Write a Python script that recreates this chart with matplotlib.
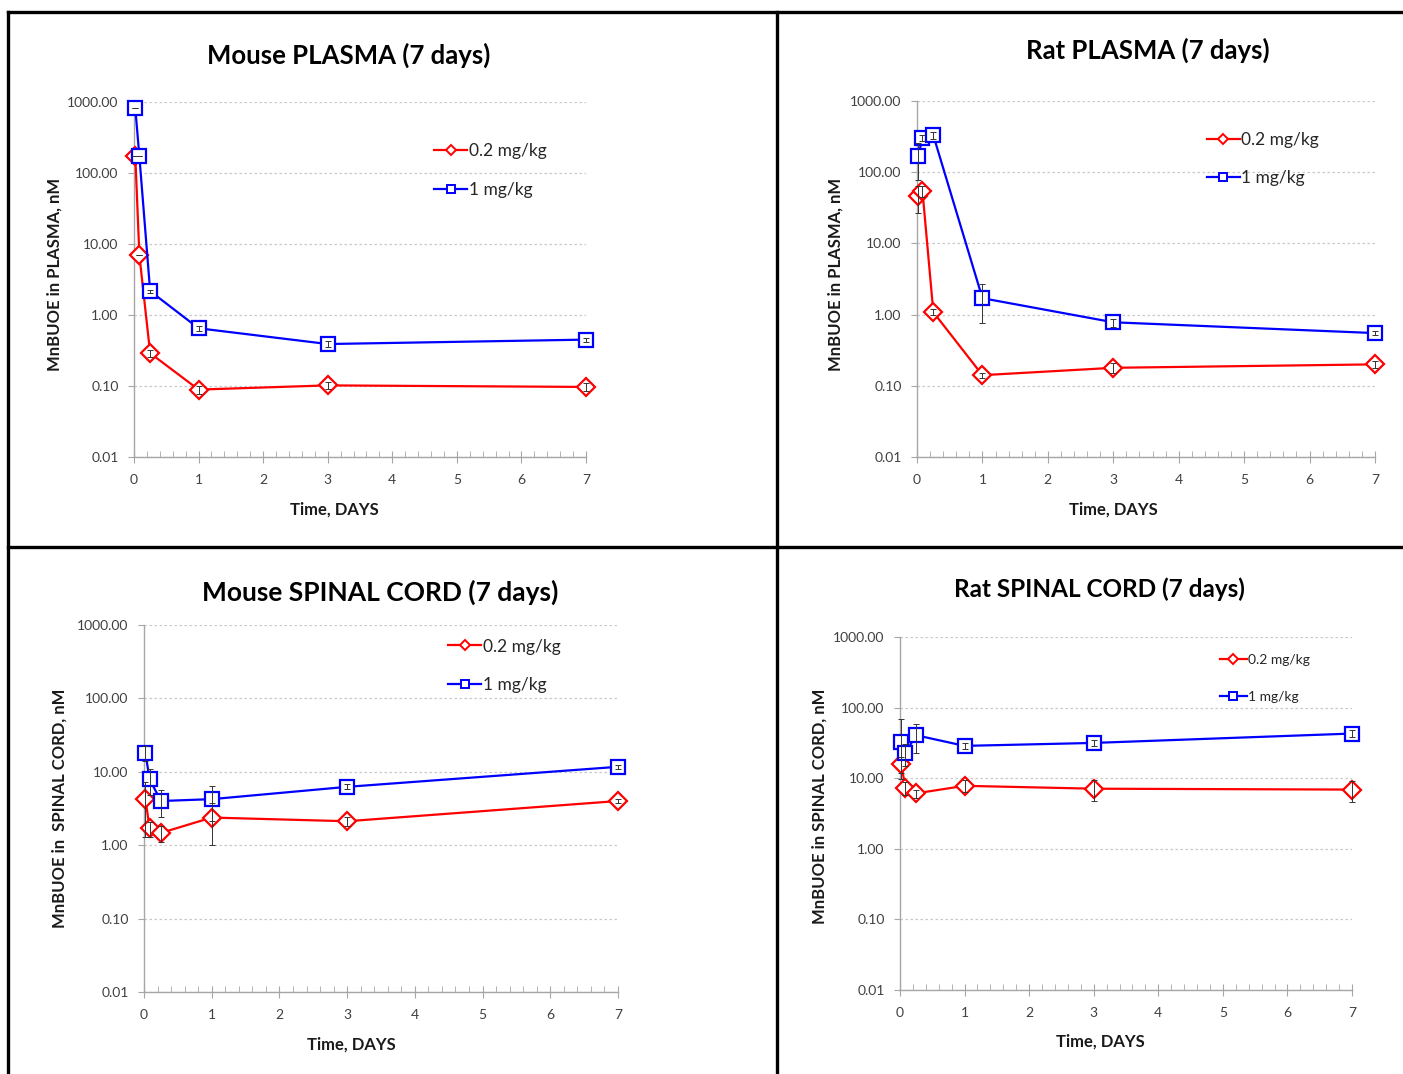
import numpy as np
import matplotlib
matplotlib.use("Agg")
import matplotlib.pyplot as plt
from matplotlib.lines import Line2D
from matplotlib.ticker import FixedLocator, MultipleLocator, FormatStrFormatter

plt.rcParams["font.family"] = ["Lato", "DejaVu Sans"]

# sampling times (days)
times = [0.02, 0.083, 0.25, 1, 3, 7]

# Mouse plasma
mouse_plasma_low = [176, 7.0, 0.29, 0.089, 0.102, 0.097]
mouse_plasma_low_err = [0, 0, 0.03, 0.012, 0.012, 0.012]
mouse_plasma_high = [820, 172, 2.17, 0.65, 0.39, 0.45]
mouse_plasma_high_err = [0, 0, 0.1, 0.06, 0.04, 0.03]

# Rat plasma
rat_plasma_low = [46, 55, 1.08, 0.141, 0.179, 0.20]
rat_plasma_low_err = [19, 10, 0.1, 0.012, 0.03, 0.02]
rat_plasma_high = [168, 305, 328, 1.70, 0.78, 0.55]
rat_plasma_high_err = [90, 30, 40, 0.95, 0.1, 0.03]

# Mouse spinal cord
mouse_sc_low = [4.3, 1.69, 1.47, 2.38, 2.12, 4.0]
mouse_sc_low_err = [3.0, 0.4, 0.35, 1.36, 0.3, 0.3]
mouse_sc_high = [18.2, 7.9, 4.0, 4.24, 6.24, 11.7]
mouse_sc_high_err = [4.0, 3.0, 1.6, 2.1, 0.5, 0.8]

# Rat spinal cord
rat_sc_low = [15.8, 7.3, 6.1, 7.8, 7.1, 6.9]
rat_sc_low_err = [4.0, 1.5, 0.8, 1.5, 2.4, 2.3]
rat_sc_high = [32.7, 22.8, 40.6, 28.7, 31.6, 42.9]
rat_sc_high_err = [37, 8, 18, 3, 3, 5]

series_labels = ["0.2 mg/kg", "1 mg/kg"]
yticks = [0.01, 0.1, 1, 10, 100, 1000]

W, H = 1403, 1074
fig = plt.figure(figsize=(W / 100, H / 100), dpi=100)


def px_axes(x0, x1, ytop, ybot):
    return fig.add_axes([x0 / W, 1 - ybot / H, (x1 - x0) / W, (ybot - ytop) / H])


def err_pair(vals, errs):
    # keep the lower whisker above zero on the log axis
    lower = [min(e, 0.7 * v) for v, e in zip(vals, errs)]
    return [lower, list(errs)]


def draw_panel(ax, low, low_err, high, high_err, legend_pos, legend_fs, legend_sp):
    ax.set_yscale("log")
    ax.set_xlim(0, 7)
    ax.set_ylim(0.01, 1000)
    ax.yaxis.set_major_locator(FixedLocator(yticks))
    ax.yaxis.set_minor_locator(FixedLocator([]))
    ax.yaxis.set_major_formatter(FormatStrFormatter("%.2f"))
    ax.xaxis.set_major_locator(MultipleLocator(1))
    ax.xaxis.set_minor_locator(MultipleLocator(0.2))
    ax.grid(True, axis="y", which="major", linestyle=(0, (2, 2)), color="#c8c8c8", linewidth=0.9)
    for s in ["top", "right"]:
        ax.spines[s].set_visible(False)
    for s in ["left", "bottom"]:
        ax.spines[s].set_color("#a6a6a6")
        ax.spines[s].set_linewidth(1.0)
    ax.tick_params(axis="y", length=4, color="#a6a6a6", labelsize=10, labelcolor="#404040", pad=7)
    ax.tick_params(axis="x", which="major", direction="inout", length=8, color="#a6a6a6",
                   labelsize=10, labelcolor="#404040", pad=8)
    ax.tick_params(axis="x", which="minor", direction="in", length=4, color="#a6a6a6")

    ax.plot(times, low, color="red", lw=1.6, marker="D", ms=9, mfc="white", mew=1.6,
            clip_on=False, zorder=3)
    ax.plot(times, high, color="blue", lw=1.6, marker="s", ms=9.5, mfc="white", mew=1.6,
            clip_on=False, zorder=3)
    ax.errorbar(times, low, yerr=err_pair(low, low_err), fmt="none", ecolor="#333333",
                elinewidth=0.7, capsize=2.5, capthick=0.7, zorder=4, clip_on=False)
    ax.errorbar(times, high, yerr=err_pair(high, high_err), fmt="none", ecolor="#333333",
                elinewidth=0.7, capsize=2.5, capthick=0.7, zorder=4, clip_on=False)

    handles = [
        Line2D([], [], color="red", lw=1.6, marker="D", ms=5, mfc="white", mew=1.4),
        Line2D([], [], color="blue", lw=1.6, marker="s", ms=6, mfc="white", mew=1.4),
    ]
    leg = ax.legend(handles, series_labels, loc="upper left", bbox_to_anchor=legend_pos,
                    frameon=False, fontsize=legend_fs, handlelength=1.9, handletextpad=0.1,
                    labelspacing=legend_sp, borderaxespad=0)
    for t in leg.get_texts():
        t.set_color("#262626")


def label_panel(title, title_xy, title_fs, xlabel_xy, ylabel, ylabel_xy):
    fig.text(title_xy[0] / W, 1 - title_xy[1] / H, title, fontsize=title_fs,
             fontweight="bold", ha="center", va="center")
    fig.text(xlabel_xy[0] / W, 1 - xlabel_xy[1] / H, "Time, DAYS", fontsize=12,
             fontweight="bold", color="#1a1a1a", ha="center", va="center")
    fig.text(ylabel_xy[0] / W, 1 - ylabel_xy[1] / H, ylabel, fontsize=12,
             fontweight="bold", color="#1a1a1a", ha="center", va="center", rotation=90)


ax1 = px_axes(134, 586, 102, 457)
draw_panel(ax1, mouse_plasma_low, mouse_plasma_low_err, mouse_plasma_high,
           mouse_plasma_high_err, (0.649, 0.905), 12.5, 1.32)
label_panel("Mouse PLASMA (7 days)", (349, 55), 18.5, (334, 510),
            "MnBUOE in PLASMA, nM", (55, 274))

ax2 = px_axes(917, 1375, 101, 457)
draw_panel(ax2, rat_plasma_low, rat_plasma_low_err, rat_plasma_high,
           rat_plasma_high_err, (0.617, 0.933), 12.5, 1.27)
label_panel("Rat PLASMA (7 days)", (1148, 50), 18.5, (1113, 510),
            "MnBUOE in PLASMA, nM", (836, 274))

ax3 = px_axes(144, 618, 625, 992)
draw_panel(ax3, mouse_sc_low, mouse_sc_low_err, mouse_sc_high,
           mouse_sc_high_err, (0.627, 0.982), 12.5, 1.27)
label_panel("Mouse SPINAL CORD (7 days)", (380, 592), 19, (351, 1045),
            "MnBUOE in  SPINAL CORD, nM", (60, 808))

ax4 = px_axes(900, 1352, 637, 990)
draw_panel(ax4, rat_sc_low, rat_sc_low_err, rat_sc_high,
           rat_sc_high_err, (0.696, 0.968), 10, 1.8)
label_panel("Rat SPINAL CORD (7 days)", (1099, 589), 17.5, (1100, 1042),
            "MnBUOE in SPINAL CORD, nM", (820, 806))

# table-like frame around panels
frame_kw = dict(color="black", lw=2.4, transform=fig.transFigure)
fig.add_artist(Line2D([8 / W, 1.0], [1 - 12 / H, 1 - 12 / H], **frame_kw))
fig.add_artist(Line2D([8 / W, 8 / W], [1 - 12 / H, 0], **frame_kw))
fig.add_artist(Line2D([777 / W, 777 / W], [1 - 12 / H, 0], **frame_kw))
fig.add_artist(Line2D([8 / W, 1.0], [1 - 547 / H, 1 - 547 / H], **frame_kw))

fig.savefig("out.png", dpi=100)
